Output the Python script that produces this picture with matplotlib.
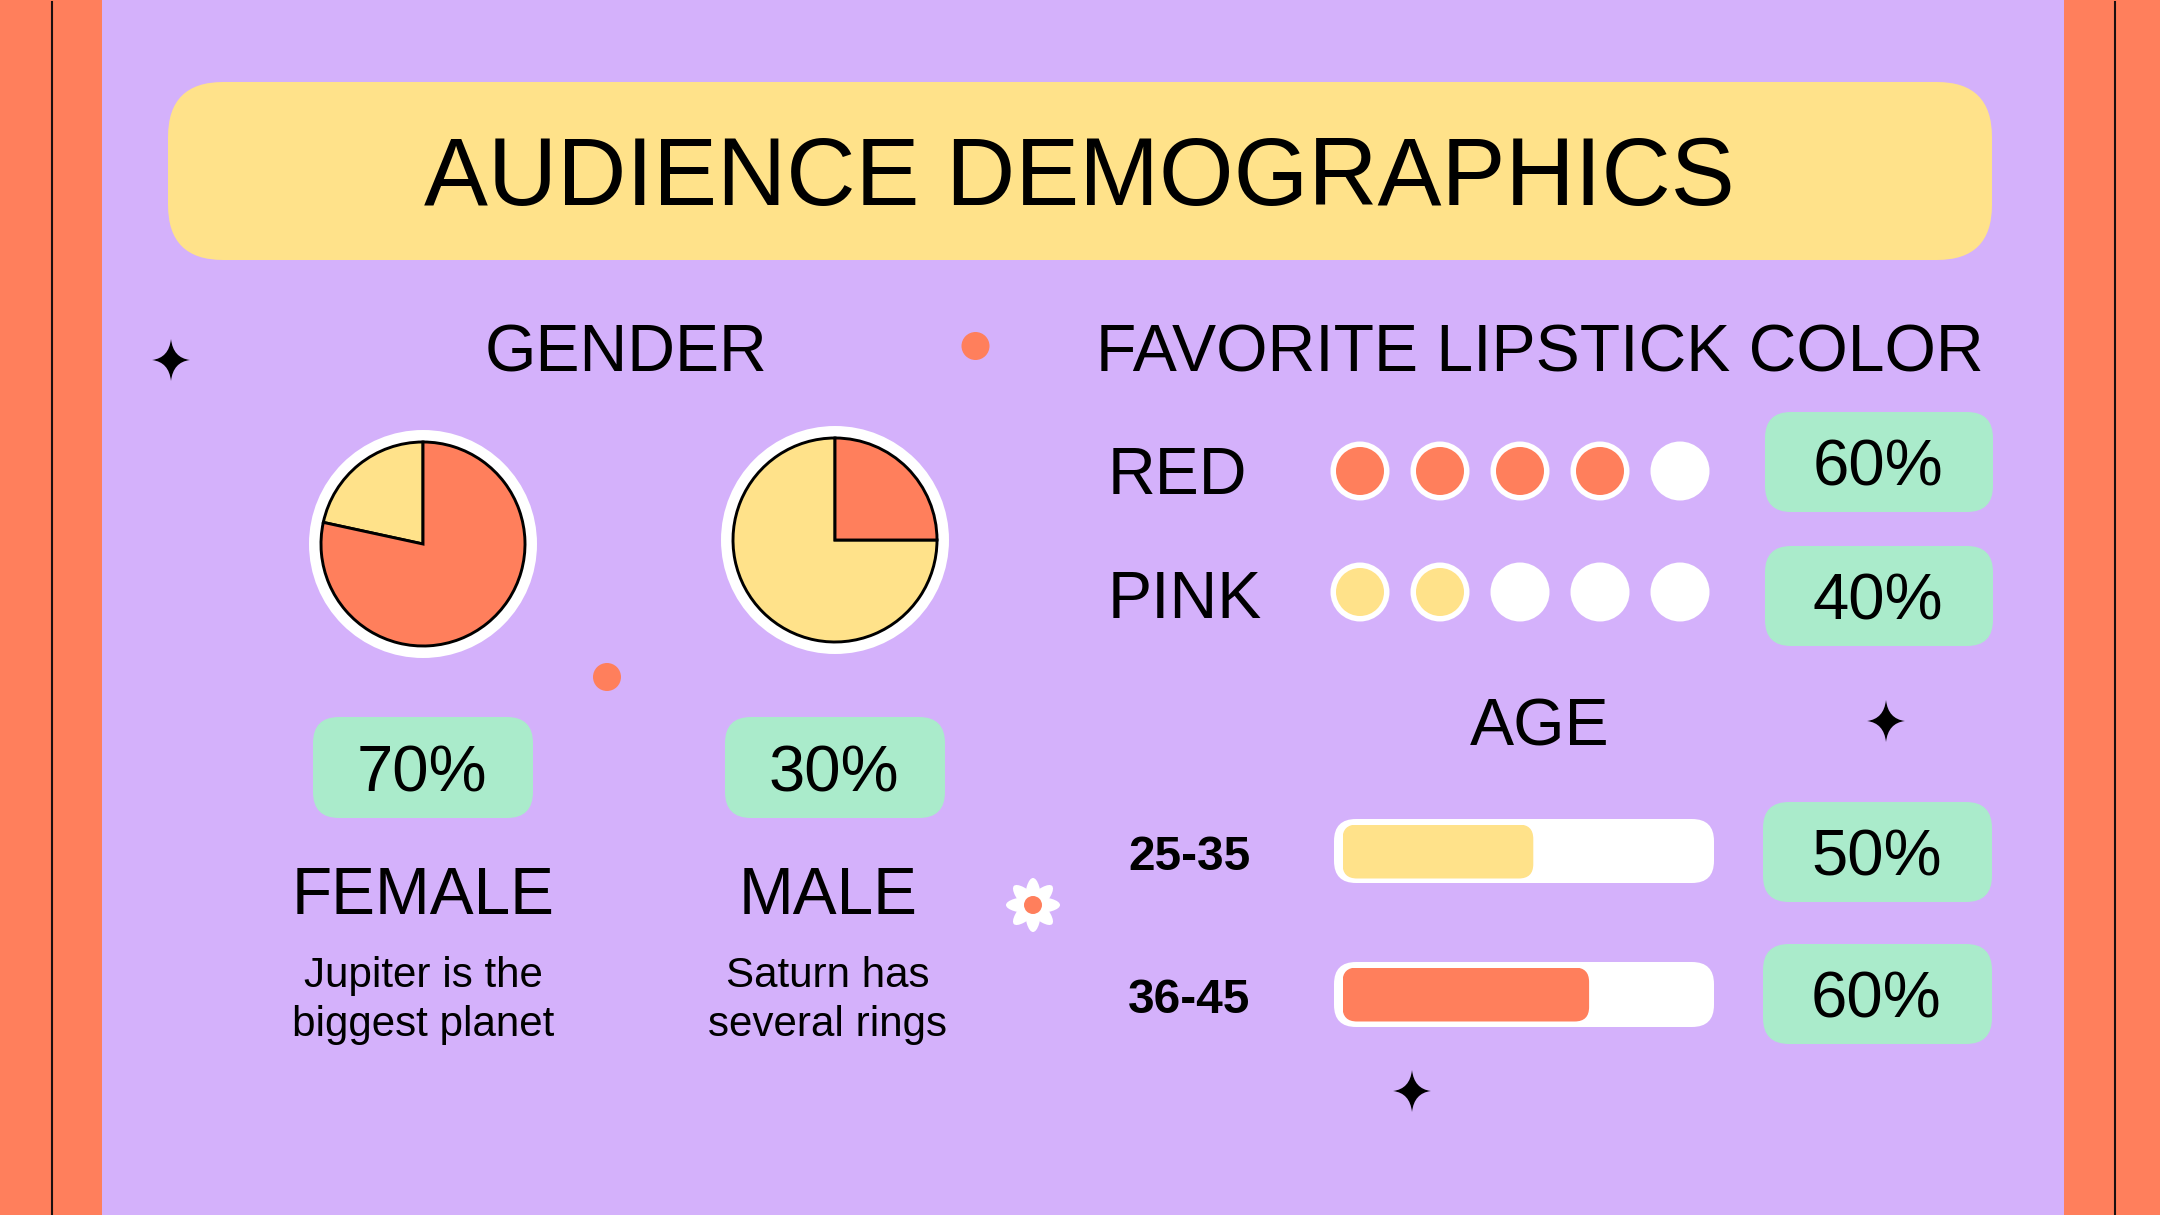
import numpy as np
import matplotlib
matplotlib.use("Agg")
import matplotlib.pyplot as plt
from matplotlib.patches import FancyBboxPatch, Circle, Ellipse, PathPatch, Rectangle
from matplotlib.path import Path

plt.rcParams['font.family'] = ['Liberation Sans', 'DejaVu Sans']

TITLE = "AUDIENCE DEMOGRAPHICS"
gender_labels = ["FEMALE", "MALE"]
gender_chips = ["70%", "30%"]
gender_notes = ["Jupiter is the\nbiggest planet", "Saturn has\nseveral rings"]
female_pie = [21.6, 78.4]
male_pie = [75, 25]
lip_labels = ["RED", "PINK"]
lip_filled = [4, 2]
lip_total = 5
lip_chips = ["60%", "40%"]
age_labels = ["25-35", "36-45"]
age_fill = [53, 68.5]
age_chips = ["50%", "60%"]

PURPLE = "#D4B1FB"
ORANGE = "#FF7F5C"
YELLOW = "#FFE28A"
MINT = "#AAEBCB"
W, H = 2160, 1215

fig = plt.figure(figsize=(21.6, 12.15), dpi=100, facecolor=PURPLE)
ax = fig.add_axes([0, 0, 1, 1])
ax.set_xlim(0, W)
ax.set_ylim(H, 0)
ax.axis("off")


def rrect(x0, y0, x1, y1, r, color, z=2):
    ax.add_patch(FancyBboxPatch((x0, y0), x1 - x0, y1 - y0,
                                boxstyle=f"round,pad=0,rounding_size={r}",
                                fc=color, ec="none", zorder=z))


def txt(x, y, s, size, **kw):
    kw.setdefault("ha", "center")
    ax.text(x, y, s, fontsize=size, va="center", color="black", zorder=5, **kw)


def chip(x0, y0, x1, y1, s):
    rrect(x0, y0, x1, y1, 26, MINT)
    txt((x0 + x1) / 2 - 1, (y0 + y1) / 2 + 7, s, 47)


def star(cx, cy, r):
    k = 0.1 * r
    rx = 0.9 * r
    verts = [(cx, cy - r), (cx + k, cy - k), (cx + rx, cy),
             (cx + k, cy + k), (cx, cy + r), (cx - k, cy + k),
             (cx - rx, cy), (cx - k, cy - k), (cx, cy - r)]
    codes = [Path.MOVETO] + [Path.CURVE3] * 8
    ax.add_patch(PathPatch(Path(verts, codes), fc="black", ec="none", zorder=3))


def pie(cx, cy, values, colors):
    R = 102
    ax.add_patch(Circle((cx, cy), 114, fc="white", ec="none", zorder=2))
    S = R + 4
    a = fig.add_axes([(cx - S) / W, 1 - (cy + S) / H, 2 * S / W, 2 * S / H])
    a.pie(values, colors=colors, startangle=90, radius=R / S,
          wedgeprops=dict(edgecolor="black", linewidth=2.1))
    a.set_xlim(-1, 1)
    a.set_ylim(-1, 1)
    a.patch.set_alpha(0)


# side stripes
ax.add_patch(Rectangle((0, 0), 102, H, fc=ORANGE, ec="none", zorder=1))
ax.add_patch(Rectangle((2064, 0), 96, H, fc=ORANGE, ec="none", zorder=1))
ax.plot([52, 52], [2, H], color="#1a1010", lw=1.5, zorder=2)
ax.plot([2115, 2115], [2, H], color="#1a1010", lw=1.5, zorder=2)

# title
rrect(168, 82, 1992, 260, 55, YELLOW)
txt(1079, 180, TITLE, 69)

# headings
txt(626, 354, "GENDER", 47.6)
txt(1540, 354, "FAVORITE LIPSTICK COLOR", 47.6)
txt(1540, 728, "AGE", 47.6)

# gender
pie(423, 544, female_pie, [YELLOW, ORANGE])
pie(835, 540, male_pie, [YELLOW, ORANGE])
chip_x = [(313, 533), (725, 945)]
label_x = [423, 828]
for i in range(2):
    chip(chip_x[i][0], 717, chip_x[i][1], 818, gender_chips[i])
    txt(label_x[i], 897, gender_labels[i], 47.3)
    txt(label_x[i], 1000.5, gender_notes[i], 30.3, linespacing=1.3)

# lipstick
dot_colors = [ORANGE, YELLOW]
dot_y = [471, 592]
label_y = [477, 601]
chip_y = [(412, 512), (546, 646)]
for i, name in enumerate(lip_labels):
    txt(1108, label_y[i], name, 47.6, ha="left")
    chip(1765, chip_y[i][0], 1993, chip_y[i][1], lip_chips[i])
    for j in range(lip_total):
        x = 1360 + 80 * j
        ax.add_patch(Circle((x, dot_y[i]), 29.5, fc="white", ec="none", zorder=2))
        if j < lip_filled[i]:
            ax.add_patch(Circle((x, dot_y[i]), 24, fc=dot_colors[i], ec="none", zorder=3))

# age
bar_colors = [YELLOW, ORANGE]
track_y = [(819, 883), (962, 1027)]
age_chip_y = [(802, 902), (944, 1044)]
label_age_y = [857.5, 1000.5]
for i, name in enumerate(age_labels):
    y0, y1 = track_y[i]
    rrect(1334, y0, 1714, y1, 22, "white")
    top = y0 + 5.5
    a = fig.add_axes([1342.5 / W, 1 - (top + 54) / H, 360 / W, 54 / H])
    a.set_xlim(0, 100)
    a.set_ylim(0, 15)
    a.axis("off")
    a.add_patch(FancyBboxPatch((0, 0), age_fill[i], 15,
                               boxstyle="round,pad=0,rounding_size=4",
                               fc=bar_colors[i], ec="none"))
    txt(1189, label_age_y[i], name, 34.4, fontweight="bold")
    chip(1763, age_chip_y[i][0], 1992, age_chip_y[i][1], age_chips[i])

# decoration
star(171, 360, 21)
star(1886, 721, 21)
star(1412, 1091, 21)
ax.add_patch(Circle((975.5, 346), 14, fc=ORANGE, ec="none", zorder=3))
ax.add_patch(Circle((607, 677), 14, fc=ORANGE, ec="none", zorder=3))
for ang in np.arange(0, 180, 45):
    ax.add_patch(Ellipse((1033, 905), 54, 17, angle=ang, fc="white", ec="none", zorder=3))
ax.add_patch(Circle((1033, 905), 9, fc=ORANGE, ec="none", zorder=4))

fig.savefig("out.png", dpi=100, facecolor=PURPLE)
